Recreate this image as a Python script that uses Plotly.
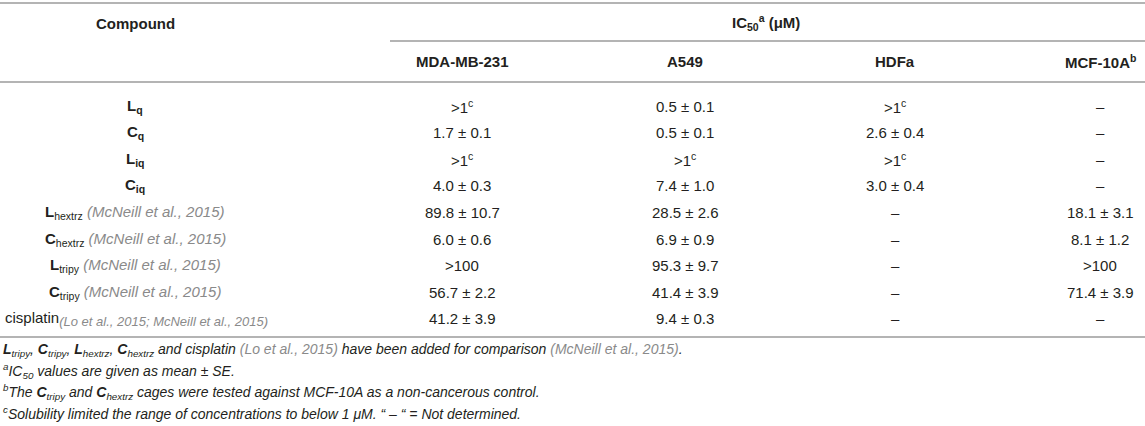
import plotly.graph_objects as go

# 表格数据：化合物及各细胞系的 IC50 值
compound_base = ['L', 'C', 'L', 'C', 'L', 'C', 'L', 'C', 'cisplatin']
compound_sub = ['q', 'q', 'iq', 'iq', 'hextrz', 'hextrz', 'tripy', 'tripy', '']
compound_ref = ['', '', '', '', 'McNeill et al., 2015', 'McNeill et al., 2015',
                'McNeill et al., 2015', 'McNeill et al., 2015',
                'Lo et al., 2015; McNeill et al., 2015']

cell_lines = ['MDA-MB-231', 'A549', 'HDFa', 'MCF-10A^b']
mda_mb_231 = ['>1^c', '1.7 ± 0.1', '>1^c', '4.0 ± 0.3', '89.8 ± 10.7', '6.0 ± 0.6', '>100', '56.7 ± 2.2', '41.2 ± 3.9']
a549 = ['0.5 ± 0.1', '0.5 ± 0.1', '>1^c', '7.4 ± 1.0', '28.5 ± 2.6', '6.9 ± 0.9', '95.3 ± 9.7', '41.4 ± 3.9', '9.4 ± 0.3']
hdfa = ['>1^c', '2.6 ± 0.4', '>1^c', '3.0 ± 0.4', '–', '–', '–', '–', '–']
mcf_10a = ['–', '–', '–', '–', '18.1 ± 3.1', '8.1 ± 1.2', '>100', '71.4 ± 3.9', '–']

GRAY = '#8a8a8a'
TEXT = '#231f20'
LINE = '#b4b4b4'
FONT = 'Liberation Sans, Arial, sans-serif'

W, H = 1145, 426
col_x = [135, 462, 685, 895, 1100]
row_y0, row_dy = 106, 26.6


def sup(s):
    # "x^c" -> x<sup>c</sup>
    if '^' in s:
        a, b = s.split('^', 1)
        return f"{a}<sup>{b}</sup>"
    return s


def gray(s, extra=''):
    return f"<span style='color:{GRAY};{extra}'>{s}</span>"


def compound_label(base, sub, ref):
    if base == 'cisplatin':
        # cisplatin 的文献引用以下标形式写出，字号接近正文
        return f"cisplatin<sub><i>{gray('(' + ref + ')', 'font-size:13px')}</i></sub>"
    if ref:
        return f"<b>{base}</b><sub>{sub}</sub> <i>{gray('(' + ref + ')')}</i>"
    return f"<b>{base}<sub>{sub}</sub></b>"


fig = go.Figure()
ann = []


def add_text(x, y, text, size=15, anchor='center'):
    ann.append(dict(x=x, y=y, xref='x', yref='y', text=text, showarrow=False,
                    xanchor=anchor, yanchor='middle',
                    font=dict(family=FONT, size=size, color=TEXT)))


# 表头
add_text(col_x[0], 23, '<b>Compound</b>')
add_text(766, 22, '<b>IC<sub>50</sub><sup>a</sup> (μM)</b>')
for i, name in enumerate(cell_lines):
    add_text(col_x[i + 1], 61, f"<b>{sup(name)}</b>")

# 数据行
columns = [mda_mb_231, a549, hdfa, mcf_10a]
for r in range(len(compound_base)):
    y = row_y0 + r * row_dy
    label = compound_label(compound_base[r], compound_sub[r], compound_ref[r])
    if compound_base[r] == 'cisplatin':
        add_text(3, y, label, anchor='left')
    else:
        add_text(col_x[0], y, label)
    for c, vals in enumerate(columns):
        add_text(col_x[c + 1], y, sup(vals[r]))

# 脚注
footnotes = [
    f"<b>L</b><sub>tripy</sub>, <b>C</b><sub>tripy</sub>, <b>L</b><sub>hextrz</sub>, <b>C</b><sub>hextrz</sub> and cisplatin "
    f"{gray('(Lo et al., 2015)')} have been added for comparison {gray('(McNeill et al., 2015)')}.",
    "<sup>a</sup>IC<sub>50</sub> values are given as mean ± SE.",
    "<sup>b</sup>The <b>C</b><sub>tripy</sub> and <b>C</b><sub>hextrz</sub> cages were tested against MCF-10A as a non-cancerous control.",
    "<sup>c</sup>Solubility limited the range of concentrations to below 1 μM. “ – “ = Not determined.",
]
for i, fn in enumerate(footnotes):
    add_text(1, 350 + i * 21, f"<i>{fn}</i>", size=14, anchor='left')

# 横线
shapes = []
for x0, y in [(0, 3), (390, 41), (0, 82), (0, 337)]:
    shapes.append(dict(type='line', xref='x', yref='y', x0=x0, x1=W, y0=y, y1=y,
                       line=dict(color=LINE, width=2)))

fig.update_layout(
    width=W, height=H,
    margin=dict(l=0, r=0, t=0, b=0),
    paper_bgcolor='white', plot_bgcolor='white',
    xaxis=dict(range=[0, W], visible=False, fixedrange=True),
    yaxis=dict(range=[H, 0], visible=False, fixedrange=True),
    annotations=ann, shapes=shapes, showlegend=False,
)

fig.write_html("out.html", config={'displayModeBar': False},
               post_script="document.body.style.margin='0';")
